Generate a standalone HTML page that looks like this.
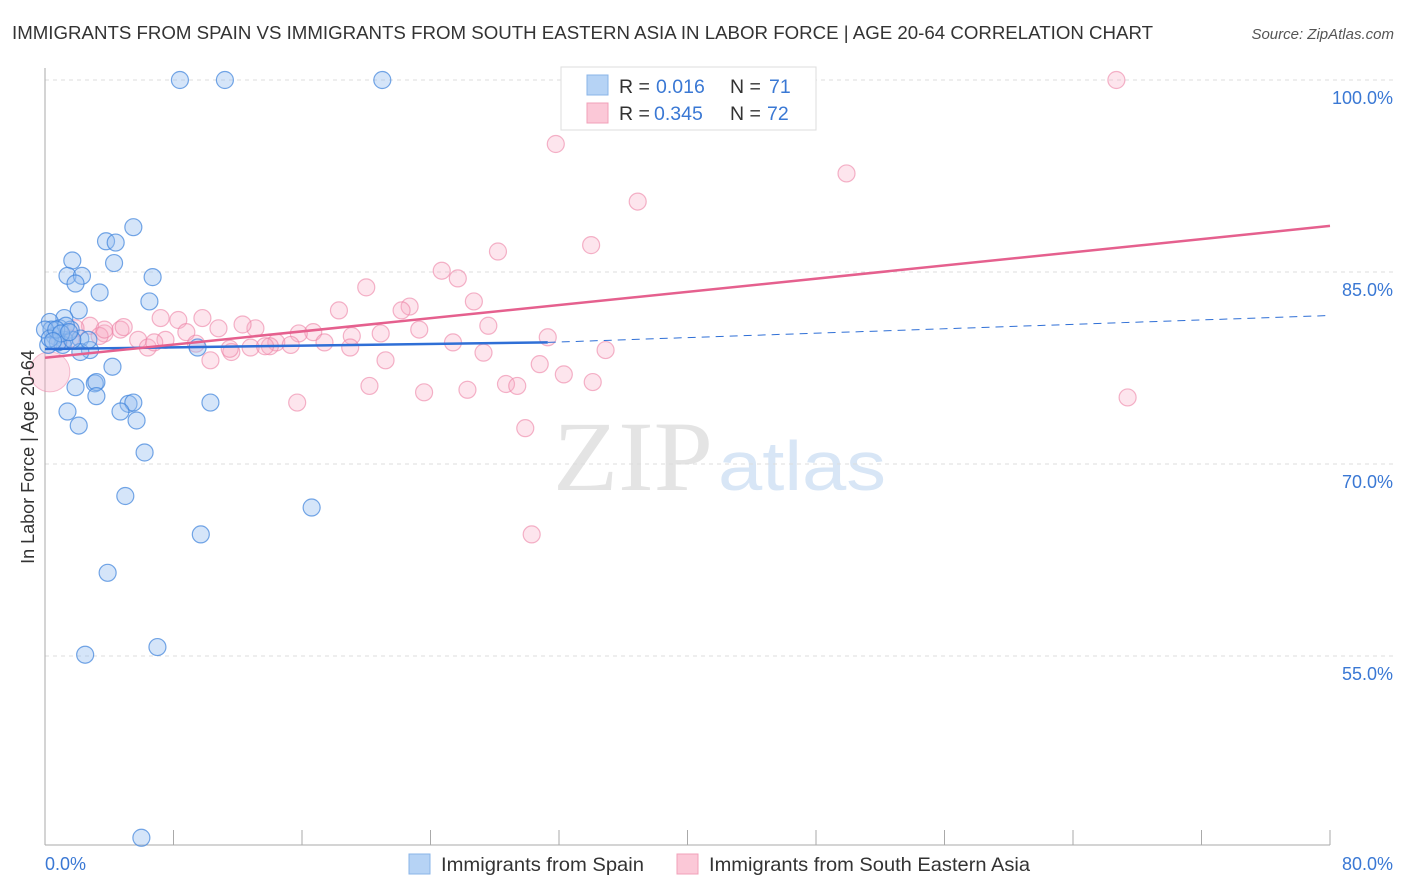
<!DOCTYPE html>
<html><head><meta charset="utf-8"><style>
body{margin:0;background:#fff;font-family:"Liberation Sans",sans-serif}
svg{display:block}
</style></head><body>
<svg id="chart" width="1406" height="892">
<text x="12" y="39" font-size="18" fill="#333" textLength="1141" lengthAdjust="spacingAndGlyphs">IMMIGRANTS FROM SPAIN VS IMMIGRANTS FROM SOUTH EASTERN ASIA IN LABOR FORCE | AGE 20-64 CORRELATION CHART</text>
<text x="1394" y="39" font-size="15" fill="#555" font-style="italic" text-anchor="end">Source: ZipAtlas.com</text>
<text x="553" y="490" font-size="100" fill="#e4e4e4" font-family="Liberation Serif" textLength="160" lengthAdjust="spacingAndGlyphs">ZIP</text>
<text x="718" y="490" font-size="70" fill="#d8e6f6" textLength="168" lengthAdjust="spacingAndGlyphs">atlas</text>
<g id="grid"></g><g id="axes"></g><g id="pts"></g><g id="lines"></g>
<text transform="translate(34,457) rotate(-90)" font-size="18" fill="#333" text-anchor="middle">In Labor Force | Age 20-64</text>
<g>
<rect x="561" y="67" width="255" height="63" fill="#fff" stroke="#ddd"/>
<rect x="587" y="75" width="21" height="20" fill="#b6d3f5" stroke="#8ab4e8"/>
<rect x="587" y="103" width="21" height="20" fill="#fbc8d7" stroke="#f2a0b8"/>
<text x="619" y="93" font-size="19.5" fill="#333">R = <tspan x="656" fill="#3a78d4">0.016</tspan></text>
<text x="730" y="93" font-size="19.5" fill="#333">N = <tspan x="769" fill="#3a78d4">71</tspan></text>
<text x="619" y="120" font-size="19.5" fill="#333">R = <tspan x="654" fill="#3a78d4">0.345</tspan></text>
<text x="730" y="120" font-size="19.5" fill="#333">N = <tspan x="767" fill="#3a78d4">72</tspan></text>
</g>
<g>
<rect x="409" y="854" width="21" height="20" fill="#b6d3f5" stroke="#8ab4e8"/>
<text x="441" y="871" font-size="19.5" fill="#333" textLength="203" lengthAdjust="spacingAndGlyphs">Immigrants from Spain</text>
<rect x="677" y="854" width="21" height="20" fill="#fbc8d7" stroke="#f2a0b8"/>
<text x="709" y="871" font-size="19.5" fill="#333" textLength="321" lengthAdjust="spacingAndGlyphs">Immigrants from South Eastern Asia</text>
</g>
</svg>
<script>
const yTicks=[100,85,70,55];
const yTickLabels=["100.0%","85.0%","70.0%","55.0%"];
const xTickLabels=["0.0%","80.0%"];
const blueX=[8.4,11.2,21.0,5.5,3.8,4.4,1.7,4.3,1.4,2.3,1.9,6.7,3.4,6.5,2.1,1.2,0.3,0.9,1.6,0.6,1.2,0.2,2.2,2.8,2.2,4.2,3.1,3.2,1.9,3.2,5.2,5.5,10.3,4.7,1.4,5.7,2.1,6.2,5.0,16.6,9.7,3.9,7.0,2.5,6.0,9.5,2.7,1.1,0.4,0.8,1.7,0.0,0.3,1.3,0.7,1.0,0.5,1.5];
const blueY=[100,100,100,88.5,87.4,87.3,85.9,85.7,84.7,84.7,84.1,84.6,83.4,82.7,82.0,81.4,81.1,80.6,80.5,80.0,79.7,79.3,79.8,78.9,78.75,77.6,76.3,76.4,76.0,75.3,74.7,74.8,74.8,74.1,74.1,73.4,73.0,70.9,67.5,66.6,64.5,61.5,55.7,55.1,40.8,79.1,79.7,79.3,80.5,79.5,79.7,80.5,79.8,80.8,80.5,80.2,79.6,80.3];
const pinkX=[66.7,43.1,31.8,49.9,36.9,34.0,28.2,24.7,25.7,20.0,26.7,22.7,22.2,18.3,27.6,23.3,31.3,20.9,19.1,16.7,15.8,14.4,13.1,12.3,10.8,9.8,8.3,8.8,7.2,5.8,4.7,3.7,2.8,1.9,34.9,27.3,25.4,21.2,19.0,17.4,15.3,14.0,12.8,11.6,10.3,9.4,7.5,6.4,30.8,32.3,34.1,28.7,29.4,26.3,23.6,20.2,15.7,29.9,67.4,30.3,0.9,3.4,6.8,1.6,3.7,4.9,11.5,13.7];
const pinkY=[100,100,95,92.7,90.5,87.1,86.6,85.1,84.5,83.8,82.7,82.3,82.0,82.0,80.8,80.5,79.9,80.2,80.0,80.3,80.2,79.5,80.6,80.9,80.6,81.4,81.25,80.3,81.4,79.7,80.5,80.2,80.8,80.6,78.9,78.7,79.5,78.1,79.1,79.5,79.3,79.2,79.1,78.75,78.1,79.4,79.7,79.1,77.8,77.0,76.4,76.25,76.1,75.8,75.6,76.1,74.8,72.8,75.2,64.5,79.7,80.0,79.5,79.8,80.5,80.7,79.0,79.2];
const bigPinkPoint=[0.3,77.2];
const blueTrend=[0,78.98,31.3,79.5,80,81.6];
const pinkTrend=[0,78.3,80,88.6];
const NS="http://www.w3.org/2000/svg";
const X=v=>45+v/80*1285, Y=v=>80+(100-v)*12.8;
function mk(p,t,a){const e=document.createElementNS(NS,t);for(const k in a)e.setAttribute(k,a[k]);document.getElementById(p).appendChild(e);return e;}
yTicks.forEach((t,i)=>{
 const g=mk('grid','line',{x1:45,x2:1393,y1:Y(t),y2:Y(t),stroke:'#ddd','stroke-dasharray':'4,4'});
 
 
 const l=mk('grid','text',{x:1393,y:Y(t)+24,'font-size':18,fill:'#3a78d4','text-anchor':'end'});
 l.textContent=yTickLabels[i];
 
 
});
const ax=mk('axes','line',{x1:45,x2:45,y1:68,y2:845,stroke:'#aaa'});


const bx=mk('axes','line',{x1:45,x2:1330,y1:845,y2:845,stroke:'#aaa'});


for(let i=0;i<=10;i++){const tk=mk('axes','line',{x1:X(i*8),x2:X(i*8),y1:830,y2:845,stroke:'#aaa'});
 
 }
[[0,'start'],[80,'end']].forEach((d,i)=>{const t=mk('axes','text',{x:i?1393:45,y:870,'font-size':18,fill:'#3a78d4','text-anchor':d[1]});t.textContent=xTickLabels[i];
 
 });
pinkX.forEach((x,i)=>{const c=mk('pts','circle',{cx:X(x),cy:Y(pinkY[i]),r:8.5,fill:'rgba(248,170,195,0.3)',stroke:'rgba(236,130,165,0.6)','stroke-width':1.2});
 
 });
const bp=mk('pts','circle',{cx:X(bigPinkPoint[0]),cy:Y(bigPinkPoint[1]),r:20,fill:'rgba(248,170,195,0.35)',stroke:'rgba(236,130,165,0.5)'});


blueX.forEach((x,i)=>{const c=mk('pts','circle',{cx:X(x),cy:Y(blueY[i]),r:8.5,fill:'rgba(150,190,240,0.4)',stroke:'rgba(60,130,220,0.7)','stroke-width':1.2});
 
 });
const t1=mk('lines','line',{x1:X(blueTrend[0]),y1:Y(blueTrend[1]),x2:X(blueTrend[2]),y2:Y(blueTrend[3]),stroke:'#2f6fd6','stroke-width':2.5});


const t2=mk('lines','line',{x1:X(blueTrend[2]),y1:Y(blueTrend[3]),x2:X(blueTrend[4]),y2:Y(blueTrend[5]),stroke:'#2f6fd6','stroke-width':1,'stroke-dasharray':'8,6'});


const t3=mk('lines','line',{x1:X(pinkTrend[0]),y1:Y(pinkTrend[1]),x2:X(pinkTrend[2]),y2:Y(pinkTrend[3]),stroke:'#e5608e','stroke-width':2.5});


</script>
</body></html>
